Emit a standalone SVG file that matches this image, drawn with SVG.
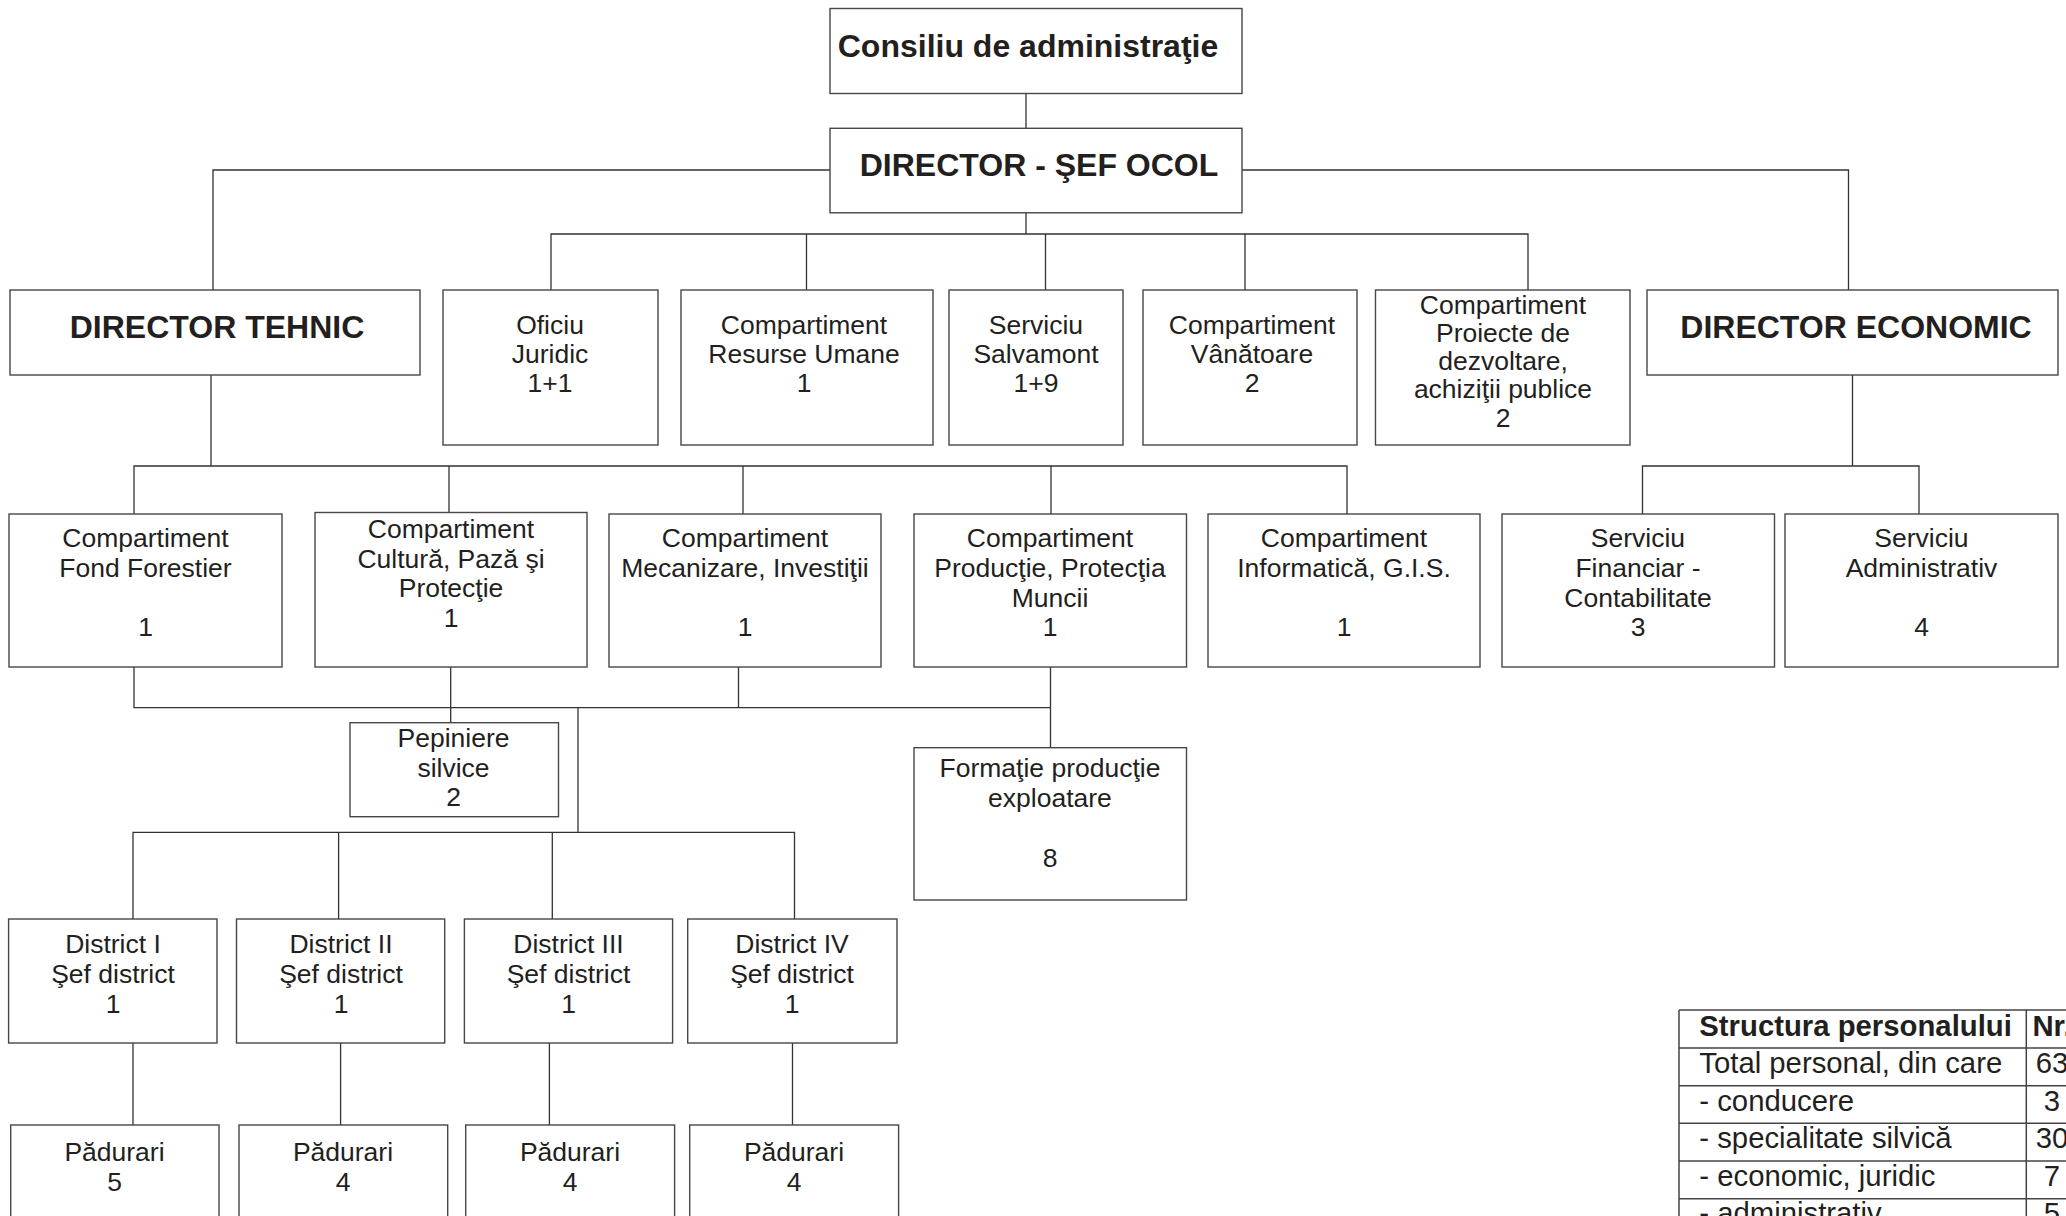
<svg xmlns="http://www.w3.org/2000/svg" width="2066" height="1216" viewBox="0 0 2066 1216">
<style>
.box{fill:#fff;stroke:#474747;stroke-width:1.4}
.c{fill:none;stroke:#333;stroke-width:1.3}
.t{font-family:"Liberation Sans",Arial,Helvetica,sans-serif;font-size:26.5px;fill:#231f20;text-anchor:middle}
.b{font-weight:bold;font-size:32px}
.tt{font-family:"Liberation Sans",Arial,Helvetica,sans-serif;font-size:29.3px;fill:#231f20}
.tn{text-anchor:middle}
.th{font-weight:bold}
.grid{fill:none;stroke:#444;stroke-width:1.5}
</style>
<rect width="2066" height="1216" fill="#fff"/>
<g id="connectors">
<path class="c" d="M1026 93V128"/>
<path class="c" d="M830 170H213V290"/>
<path class="c" d="M1242 170H1848.5V290"/>
<path class="c" d="M1026 213V234"/>
<path class="c" d="M551 290V234H1528V290M806.5 234V290M1045.5 234V290M1245 234V290"/>
<path class="c" d="M211 375V466"/>
<path class="c" d="M134 514V466H1347V514M449 466V512.5M743 466V514M1051 466V514"/>
<path class="c" d="M1852.5 375V466"/>
<path class="c" d="M1642.5 514V466H1919V514"/>
<path class="c" d="M134 667V707.7H1050.5"/>
<path class="c" d="M450.7 667V722.7"/>
<path class="c" d="M738.5 667V707.7"/>
<path class="c" d="M1050.5 667V747.7"/>
<path class="c" d="M578 707.7V832.3"/>
<path class="c" d="M133 919V832.3H794.5V919M338.6 832.3V919M552.3 832.3V919"/>
<path class="c" d="M133 1043V1125M340.6 1043V1125M549.4 1043V1125M792.5 1043V1125"/>
</g>
<g id="consiliu"><rect class="box" x="830" y="8.5" width="412" height="85"/><text class="t b" x="1028" y="57">Consiliu de administraţie</text></g>
<g id="director"><rect class="box" x="830" y="128.3" width="412" height="84.5"/><text class="t b" x="1039" y="176">DIRECTOR - ŞEF OCOL</text></g>
<g id="dir-tehnic"><rect class="box" x="10" y="290" width="410" height="85"/><text class="t b" x="217" y="338">DIRECTOR TEHNIC</text></g>
<g id="oficiu-juridic"><rect class="box" x="443" y="290" width="215" height="155"/><text class="t" x="550" y="334">Oficiu</text><text class="t" x="550" y="363">Juridic</text><text class="t" x="550" y="392">1+1</text></g>
<g id="resurse-umane"><rect class="box" x="681" y="290" width="252" height="155"/><text class="t" x="804" y="334">Compartiment</text><text class="t" x="804" y="363">Resurse Umane</text><text class="t" x="804" y="392">1</text></g>
<g id="salvamont"><rect class="box" x="949" y="290" width="174" height="155"/><text class="t" x="1036" y="334">Serviciu</text><text class="t" x="1036" y="363">Salvamont</text><text class="t" x="1036" y="392">1+9</text></g>
<g id="vanatoare"><rect class="box" x="1143" y="290" width="214" height="155"/><text class="t" x="1252" y="334">Compartiment</text><text class="t" x="1252" y="363">Vânătoare</text><text class="t" x="1252" y="392">2</text></g>
<g id="proiecte"><rect class="box" x="1375.5" y="290" width="254.5" height="155"/><text class="t" x="1503" y="314">Compartiment</text><text class="t" x="1503" y="342">Proiecte de</text><text class="t" x="1503" y="370">dezvoltare,</text><text class="t" x="1503" y="398">achiziţii publice</text><text class="t" x="1503" y="427">2</text></g>
<g id="dir-economic"><rect class="box" x="1647" y="290" width="411" height="85"/><text class="t b" x="1856" y="338">DIRECTOR ECONOMIC</text></g>
<g id="fond-forestier"><rect class="box" x="9" y="514" width="273" height="153"/><text class="t" x="145.5" y="547">Compartiment</text><text class="t" x="145.5" y="577">Fond Forestier</text><text class="t" x="145.5" y="636">1</text></g>
<g id="cultura"><rect class="box" x="315" y="512.5" width="272" height="154.5"/><text class="t" x="451" y="538">Compartiment</text><text class="t" x="451" y="568">Cultură, Pază şi</text><text class="t" x="451" y="597">Protecţie</text><text class="t" x="451" y="626.5">1</text></g>
<g id="mecanizare"><rect class="box" x="609" y="514" width="272" height="153"/><text class="t" x="745" y="547">Compartiment</text><text class="t" x="745" y="577">Mecanizare, Investiţii</text><text class="t" x="745" y="636">1</text></g>
<g id="productie"><rect class="box" x="914" y="514" width="272.5" height="153"/><text class="t" x="1050" y="547">Compartiment</text><text class="t" x="1050" y="577">Producţie, Protecţia</text><text class="t" x="1050" y="607">Muncii</text><text class="t" x="1050" y="636">1</text></g>
<g id="informatica"><rect class="box" x="1208" y="514" width="272" height="153"/><text class="t" x="1344" y="547">Compartiment</text><text class="t" x="1344" y="577">Informatică, G.I.S.</text><text class="t" x="1344" y="636">1</text></g>
<g id="financiar"><rect class="box" x="1502" y="514" width="272.5" height="153"/><text class="t" x="1638" y="547">Serviciu</text><text class="t" x="1638" y="577">Financiar -</text><text class="t" x="1638" y="607">Contabilitate</text><text class="t" x="1638" y="636">3</text></g>
<g id="administrativ"><rect class="box" x="1785" y="514" width="273" height="153"/><text class="t" x="1921.5" y="547">Serviciu</text><text class="t" x="1921.5" y="577">Administrativ</text><text class="t" x="1921.5" y="636">4</text></g>
<g id="pepiniere"><rect class="box" x="350" y="722.7" width="208.5" height="94"/><text class="t" x="453.5" y="746.7">Pepiniere</text><text class="t" x="453.5" y="776.7">silvice</text><text class="t" x="453.5" y="806">2</text></g>
<g id="formatie"><rect class="box" x="914" y="747.7" width="272.5" height="152.3"/><text class="t" x="1050" y="777">Formaţie producţie</text><text class="t" x="1050" y="807">exploatare</text><text class="t" x="1050" y="867">8</text></g>
<g id="district-1"><rect class="box" x="8.6" y="919" width="208.4" height="124"/><text class="t" x="113" y="953">District I</text><text class="t" x="113" y="983">Şef district</text><text class="t" x="113" y="1013">1</text></g>
<g id="district-2"><rect class="box" x="236.5" y="919" width="208.2" height="124"/><text class="t" x="341" y="953">District II</text><text class="t" x="341" y="983">Şef district</text><text class="t" x="341" y="1013">1</text></g>
<g id="district-3"><rect class="box" x="464.4" y="919" width="208.2" height="124"/><text class="t" x="568.5" y="953">District III</text><text class="t" x="568.5" y="983">Şef district</text><text class="t" x="568.5" y="1013">1</text></g>
<g id="district-4"><rect class="box" x="687.7" y="919" width="209.3" height="124"/><text class="t" x="792" y="953">District IV</text><text class="t" x="792" y="983">Şef district</text><text class="t" x="792" y="1013">1</text></g>
<g id="padurari-1"><rect class="box" x="10.7" y="1125" width="208.3" height="130"/><text class="t" x="114.5" y="1160.5">Pădurari</text><text class="t" x="114.5" y="1191">5</text></g>
<g id="padurari-2"><rect class="box" x="239" y="1125" width="208.7" height="130"/><text class="t" x="343" y="1160.5">Pădurari</text><text class="t" x="343" y="1191">4</text></g>
<g id="padurari-3"><rect class="box" x="465.7" y="1125" width="208.9" height="130"/><text class="t" x="570" y="1160.5">Pădurari</text><text class="t" x="570" y="1191">4</text></g>
<g id="padurari-4"><rect class="box" x="689.7" y="1125" width="208.9" height="130"/><text class="t" x="794" y="1160.5">Pădurari</text><text class="t" x="794" y="1191">4</text></g>
<g id="table">
<path class="grid" d="M1679 1010H2090M1679 1048H2090M1679 1085.7H2090M1679 1123.3H2090M1679 1161H2090M1679 1198.7H2090M1679 1236.4H2090M1679 1010V1240M2026.3 1010V1240"/>
<text class="tt th" x="1699.3" y="1036">Structura personalului</text>
<text class="tt" x="1699.3" y="1073">Total personal, din care</text>
<text class="tt" x="1699.3" y="1111">- conducere</text>
<text class="tt" x="1699.3" y="1148">- specialitate silvică</text>
<text class="tt" x="1699.3" y="1186">- economic, juridic</text>
<text class="tt" x="1699.3" y="1223">- administrativ</text>
<text class="tt th tn" x="2052" y="1036">Nr.</text>
<text class="tt tn" x="2052" y="1073">63</text>
<text class="tt tn" x="2052" y="1111">3</text>
<text class="tt tn" x="2052" y="1148">30</text>
<text class="tt tn" x="2052" y="1186">7</text>
<text class="tt tn" x="2052" y="1223">5</text>
</g>
</svg>
